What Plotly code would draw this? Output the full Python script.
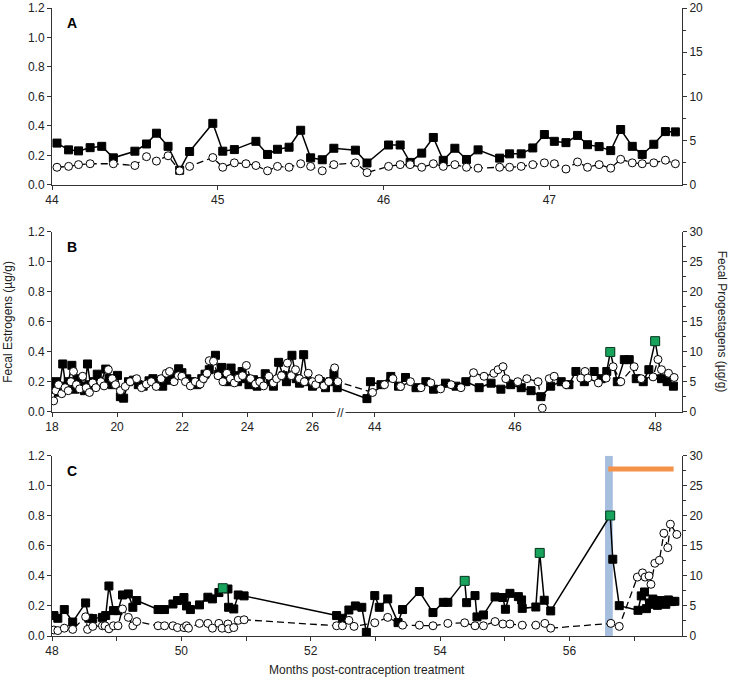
import plotly.graph_objects as go

# ---------------- Panel A data ----------------
a_months = [44.03, 44.10, 44.16, 44.23, 44.30, 44.37, 44.50, 44.57, 44.63, 44.70, 44.77, 44.83,
            44.97, 45.03, 45.10, 45.17, 45.23, 45.30, 45.36, 45.43, 45.50, 45.56, 45.63, 45.70,
            45.83, 45.90, 46.03, 46.10, 46.16, 46.23, 46.30, 46.36, 46.43, 46.50, 46.57, 46.70,
            46.76, 46.83, 46.90, 46.97, 47.03, 47.10, 47.17, 47.23, 47.30, 47.37, 47.43, 47.50,
            47.56, 47.63, 47.70, 47.76]
a_estrogen = [0.284, 0.238, 0.231, 0.253, 0.262, 0.184, 0.229, 0.278, 0.351, 0.262, 0.100, 0.227,
              0.418, 0.229, 0.240, None, 0.296, 0.207, 0.242, 0.256, 0.371, 0.184, 0.171, 0.249,
              0.236, 0.149, 0.271, 0.271, 0.153, 0.216, 0.322, 0.167, 0.249, 0.173, 0.238, 0.182,
              0.211, 0.211, 0.251, 0.342, 0.296, 0.287, 0.336, 0.273, 0.260, 0.233, 0.376, 0.262,
              0.207, 0.276, 0.362, 0.360]
a_progestagen = [2.0, 2.1, 2.3, 2.4, None, 2.4, 2.2, 3.2, 2.7, 3.3, 1.6, 2.1,
                 3.1, 2.0, 2.5, 2.4, 2.2, 1.6, 2.1, 2.0, 2.4, 2.1, 1.6, 2.3,
                 2.5, 1.4, 2.1, 2.3, 2.3, 2.0, 2.4, 2.1, 2.3, 2.0, 1.9, 2.0,
                 2.0, 2.1, 2.3, 2.5, 2.4, 1.8, 2.6, 2.0, 2.3, 1.9, 2.9, 2.5,
                 2.4, 2.5, 2.8, 2.4]

# ---------------- Panel B data (broken axis: 18-27 and 44-48.5 months) ----------------
b1_est_months = [18.05, 18.12, 18.20, 18.33, 18.42, 18.50, 18.61, 18.70, 18.80, 18.90, 19.00, 19.09,
                 19.18, 19.28, 19.39, 19.50, 19.65, 19.75, 19.85, 20.01, 20.10, 20.20, 20.35, 20.50,
                 20.65, 20.80, 20.98, 21.10, 21.25, 21.40, 21.55, 21.70, 21.89, 21.99, 22.14, 22.30,
                 22.45, 22.60, 22.70, 22.83, 23.02, 23.12, 23.22, 23.30, 23.40, 23.50, 23.60, 23.70,
                 23.84, 23.95, 24.05, 24.19, 24.30, 24.40, 24.55, 24.70, 24.80, 24.96, 25.10, 25.20,
                 25.37, 25.50, 25.60, 25.73, 25.85, 26.00, 26.10, 26.25, 26.40, 26.55, 26.66, 26.76]
b1_estrogen = [0.15, 0.20, 0.13, 0.318, 0.17, 0.20, 0.309, 0.15, 0.22, 0.17, 0.14, 0.318,
               0.18, 0.20, 0.25, 0.19, 0.284, 0.22, 0.18, 0.242, 0.10, 0.09, 0.20, 0.21,
               0.18, 0.17, 0.206, 0.22, 0.19, 0.17, 0.21, 0.24, 0.286, 0.26, 0.219, 0.20,
               0.18, 0.22, 0.25, 0.28, 0.376, 0.25, 0.295, 0.22, 0.20, 0.291, 0.24, 0.20,
               0.268, 0.22, 0.18, 0.213, 0.17, 0.20, 0.253, 0.20, 0.17, 0.329, 0.24, 0.20,
               0.376, 0.22, 0.19, 0.38, 0.20, 0.17, 0.19, 0.20, 0.16, 0.20, 0.257, 0.16]
b1_prog_months = [18.05, 18.12, 18.20, 18.30, 18.40, 18.50, 18.58, 18.66, 18.75, 18.85, 18.94, 19.05,
                  19.15, 19.25, 19.35, 19.50, 19.60, 19.73, 19.85, 19.95, 20.10, 20.25, 20.40, 20.60,
                  20.75, 20.90, 21.05, 21.20, 21.35, 21.51, 21.61, 21.75, 21.88, 21.99, 22.10, 22.25,
                  22.40, 22.55, 22.65, 22.76, 22.83, 22.96, 23.10, 23.25, 23.37, 23.48, 23.60, 23.72,
                  23.85, 23.97, 24.10, 24.25, 24.38, 24.50, 24.66, 24.80, 24.90, 25.05, 25.23, 25.35,
                  25.48, 25.60, 25.75, 25.87, 26.00, 26.10, 26.20, 26.35, 26.50, 26.68, 26.78]
b1_progestagen = [1.8, 3.5, 4.5, 3.0, 4.0, 3.5, 5.0, 6.7, 4.5, 3.8, 5.9, 4.0,
                  3.2, 4.8, 4.0, 5.0, 4.3, 7.0, 5.5, 4.5, 3.5, 4.2, 5.0, 5.5,
                  4.0, 4.6, 5.0, 4.2, 5.5, 6.4, 6.7, 5.0, 6.0, 5.9, 5.0, 4.3,
                  5.0, 4.6, 5.5, 6.4, 8.5, 8.4, 6.0, 5.0, 6.4, 5.5, 4.8, 5.6,
                  6.0, 7.7, 5.5, 4.6, 5.0, 4.3, 5.9, 4.8, 5.5, 6.0, 8.1, 6.0,
                  7.0, 5.5, 5.0, 6.4, 5.0, 4.5, 5.5, 4.3, 5.0, 7.3, 5.0]
b2_est_months = [43.89, 43.94, 44.09, 44.23, 44.34, 44.44, 44.59, 44.73, 44.84, 45.01, 45.16, 45.30,
                 45.49, 45.66, 45.80, 45.94, 46.09, 46.23, 46.37, 46.51, 46.66, 46.77, 46.87, 46.99,
                 47.13, 47.23, 47.31, 47.36, 47.46, 47.56, 47.63, 47.73, 47.83, 47.91, 48.00, 48.09,
                 48.17, 48.26]
b2_estrogen = [0.087, 0.20, 0.18, 0.235, 0.17, 0.228, 0.16, 0.20, 0.15, 0.19, 0.17, 0.20,
               0.16, 0.19, 0.15, 0.18, 0.16, 0.14, 0.10, 0.17, 0.20, 0.18, 0.268, 0.20,
               0.268, 0.22, 0.268, 0.398, 0.20, 0.347, 0.347, 0.22, 0.20, 0.28, 0.47, 0.22,
               0.20, 0.17]
b2_prog_months = [43.97, 44.14, 44.26, 44.37, 44.51, 44.66, 44.80, 44.94, 45.09, 45.23, 45.41, 45.56,
                  45.70, 45.76, 45.83, 45.87, 46.04, 46.17, 46.33, 46.39, 46.49, 46.56, 46.73, 46.94,
                  47.00, 47.04, 47.19, 47.30, 47.40, 47.51, 47.70, 47.80, 47.97, 48.04, 48.09, 48.19,
                  48.27]
b2_progestagen = [3.2, 4.5, 5.5, 4.2, 5.0, 4.0, 4.8, 3.8, 4.5, 4.0, 6.5, 5.9,
                  6.4, 7.0, 7.5, 5.5, 5.0, 5.5, 5.0, 0.6, 5.5, 5.9, 4.5, 5.6,
                  6.7, 5.6, 4.8, 5.6, 7.5, 5.0, 7.5, 5.5, 5.8, 8.7, 7.0, 6.4,
                  5.7]
b_green_months = [47.36, 48.00]
b_green_estrogen = [0.398, 0.47]

# ---------------- Panel C data ----------------
c_months = [48.03, 48.09, 48.19, 48.32, 48.52, 48.57, 48.63, 48.78, 48.83, 48.88, 48.95, 49.02,
            49.09, 49.18, 49.25, 49.31, 49.64, 49.74, 49.87, 49.94, 50.04, 50.08, 50.14, 50.28,
            50.41, 50.48, 50.58, 50.64, 50.72, 50.73, 50.81, 50.88, 50.97, 52.40, 52.49, 52.59,
            52.69, 52.79, 52.86, 52.99, 53.06, 53.19, 53.35, 53.42, 53.68, 53.89, 54.05, 54.12,
            54.38, 54.41, 54.54, 54.57, 54.67, 54.85, 54.97, 55.01, 55.08, 55.21, 55.26, 55.27,
            55.48, 55.54, 55.61, 55.71, 56.63, 56.67, 56.77, 57.06, 57.11, 57.16, 57.19, 57.24,
            57.29, 57.32, 57.36, 57.40, 57.44, 57.49, 57.53, 57.58, 57.63]
c_estrogen = [0.136, 0.118, 0.176, 0.093, 0.220, 0.118, 0.116, 0.124, 0.136, 0.333, 0.169, 0.169,
              0.273, 0.280, 0.191, 0.236, 0.176, 0.176, 0.213, 0.236, 0.256, 0.200, 0.176, 0.207,
              0.258, 0.247, 0.289, 0.318, 0.313, 0.191, 0.180, 0.273, 0.267, 0.136, 0.118, 0.173,
              0.200, 0.191, 0.024, 0.269, 0.191, 0.247, 0.089, 0.176, 0.296, 0.156, 0.224, 0.224,
              0.367, 0.222, 0.269, 0.127, 0.140, 0.260, 0.256, 0.178, 0.284, 0.262, 0.240, 0.184,
              0.193, 0.553, 0.238, 0.167, 0.802, 0.511, 0.202, 0.171, 0.267, 0.293, 0.182, 0.220,
              0.246, 0.211, 0.204, 0.236, 0.218, 0.211, 0.240, 0.229, 0.231]
c_prog_months = [48.03, 48.09, 48.19, 48.32, 48.52, 48.55, 48.63, 48.78, 48.82, 48.88, 48.95, 49.02,
                 49.09, 49.18, 49.25, 49.31, 49.64, 49.74, 49.87, 49.94, 50.04, 50.08, 50.11, 50.28,
                 50.41, 50.48, 50.58, 50.63, 50.72, 50.73, 50.81, 50.88, 50.97, 52.40, 52.49, 52.59,
                 52.67, 52.99, 53.19, 53.42, 53.68, 53.89, 54.12, 54.38, 54.54, 54.67, 54.85, 54.97,
                 55.08, 55.27, 55.48, 55.62, 55.71, 56.64, 56.77, 57.05, 57.13, 57.17, 57.23, 57.26,
                 57.32, 57.39, 57.46, 57.52, 57.56, 57.66]
c_progestagen = [1.0, 0.9, 1.3, 1.1, 3.2, 1.1, 1.6, 1.7, 1.7, 1.2, 1.7, 1.7,
                 4.5, 3.1, 1.7, 2.4, 1.7, 1.7, 1.7, 1.4, 1.4, 1.7, 1.3, 2.1,
                 2.1, 1.3, 2.1, 1.3, 2.0, 1.2, 1.4, 2.6, 2.7, 1.7, 1.7, 2.6,
                 1.6, 2.2, 3.1, 1.8, 1.8, 1.7, 2.1, 2.2, 1.7, 1.7, 2.4, 2.0,
                 2.0, 1.8, 1.8, 2.1, 1.3, 2.1, 1.6, 9.8, 10.5, 9.8, 10.0, 8.6,
                 12.1, 12.6, 17.1, 14.7, 18.6, 16.9]
c_green_months = [50.64, 54.38, 55.54, 56.63]
c_green_estrogen = [0.318, 0.367, 0.553, 0.802]
c_band_months = [56.55, 56.67]
c_bar_months = [56.60, 57.61]
c_bar_progestagen = 27.8

# ---------------- axis ticks ----------------
a_ticks = [44, 45, 46, 47]
b1_ticks = [18, 20, 22, 24, 26]
b2_ticks = [44, 46, 48]
c_ticks = [48, 50, 52, 54, 56]
left_ticks = [0, 0.2, 0.4, 0.6, 0.8, 1.0, 1.2]

# broken axis mapping for panel B (segment 2 is placed after the break)
B_SEG2_ORIGIN = 27.91   # axis position of month 44
B_SEG2_SCALE = 2.154    # segment 2 stretch relative to segment 1


def b2pos(m):
    return B_SEG2_ORIGIN + (m - 44) * B_SEG2_SCALE


FONT = "Liberation Sans, Arial, sans-serif"
BLACK = "#000000"
GREEN = "#17a35b"
DASH = "7px,4px"

fig = go.Figure()

sq = dict(symbol="square", size=8, color=BLACK, line=dict(color=BLACK, width=1))
ci = dict(symbol="circle", size=8, color="white", line=dict(color=BLACK, width=1))
gr = dict(symbol="square", size=9, color=GREEN, line=dict(color="#0b3d24", width=1))


def add_pair(x_e, y_e, x_p, y_p, xa, ya_l, ya_r):
    fig.add_trace(go.Scatter(x=x_p, y=y_p, mode="lines+markers", xaxis=xa, yaxis=ya_r,
                             line=dict(color=BLACK, width=1.3, dash=DASH), marker=ci,
                             connectgaps=True, showlegend=False))
    fig.add_trace(go.Scatter(x=x_e, y=y_e, mode="lines+markers", xaxis=xa, yaxis=ya_l,
                             line=dict(color=BLACK, width=1.5), marker=sq,
                             connectgaps=True, showlegend=False))


# Panel A
add_pair(a_months, a_estrogen, a_months, a_progestagen, "x", "y", "y2")

# Panel B
add_pair(b1_est_months + [b2pos(m) for m in b2_est_months], b1_estrogen + b2_estrogen,
         b1_prog_months + [b2pos(m) for m in b2_prog_months], b1_progestagen + b2_progestagen,
         "x2", "y3", "y4")
fig.add_trace(go.Scatter(x=[b2pos(m) for m in b_green_months], y=b_green_estrogen, mode="markers",
                         xaxis="x2", yaxis="y3", marker=gr, showlegend=False))

# Panel C
fig.add_trace(go.Scatter(x=[c_band_months[0], c_band_months[1], c_band_months[1], c_band_months[0]],
                         y=[0, 0, 1.2, 1.2], fill="toself", mode="none",
                         fillcolor="rgba(150,180,216,0.85)", xaxis="x3", yaxis="y5", showlegend=False))
fig.add_trace(go.Scatter(x=c_bar_months, y=[c_bar_progestagen] * 2, mode="lines",
                         line=dict(color="#f5924a", width=5), xaxis="x3", yaxis="y6", showlegend=False))
add_pair(c_months, c_estrogen, c_prog_months, c_progestagen, "x3", "y5", "y6")
fig.add_trace(go.Scatter(x=c_green_months, y=c_green_estrogen, mode="markers",
                         xaxis="x3", yaxis="y5", marker=gr, showlegend=False))

axis_common = dict(showgrid=False, zeroline=False, showline=True, linecolor="#333333", linewidth=1,
                   ticks="outside", ticklen=4, tickcolor="#333333", automargin=False,
                   tickfont=dict(size=12, color="#222"))

dom_a = [0.7182, 1.0]
dom_b = [0.3572, 0.6438]
dom_c = [0.0, 0.2871]

fig.update_layout(
    template="none",
    width=730, height=678, plot_bgcolor="white", paper_bgcolor="white",
    margin=dict(l=52, r=48, t=8, b=42, autoexpand=False),
    font=dict(family=FONT, size=12, color="#222"),
    showlegend=False,
    xaxis=dict(axis_common, domain=[0, 1], anchor="y", range=[44, 47.80], tickvals=a_ticks),
    yaxis=dict(axis_common, domain=dom_a, anchor="x", range=[0, 1.2], tickvals=left_ticks,
               tickformat=".1f"),
    yaxis2=dict(axis_common, domain=dom_a, anchor="x", overlaying="y", side="right", range=[0, 20],
                tickvals=[0, 5, 10, 15, 20],
                minor=dict(ticks="outside", ticklen=3, tickcolor="#333", dtick=2.5)),
    xaxis2=dict(axis_common, domain=[0, 1], anchor="y3", range=[18, 37.35],
                tickvals=b1_ticks + [b2pos(m) for m in b2_ticks],
                ticktext=[str(t) for t in b1_ticks + b2_ticks]),
    yaxis3=dict(axis_common, domain=dom_b, anchor="x2", range=[0, 1.2], tickvals=left_ticks,
                tickformat=".1f"),
    yaxis4=dict(axis_common, domain=dom_b, anchor="x2", overlaying="y3", side="right", range=[0, 30],
                tickvals=[0, 5, 10, 15, 20, 25, 30],
                minor=dict(ticks="outside", ticklen=3, tickcolor="#333", dtick=2.5)),
    xaxis3=dict(axis_common, domain=[0, 1], anchor="y5", range=[48, 57.74], tickvals=c_ticks,
                minor=dict(ticks="outside", ticklen=4, tickcolor="#333", dtick=1)),
    yaxis5=dict(axis_common, domain=dom_c, anchor="x3", range=[0, 1.2], tickvals=left_ticks,
                tickformat=".1f"),
    yaxis6=dict(axis_common, domain=dom_c, anchor="x3", overlaying="y5", side="right", range=[0, 30],
                tickvals=[0, 5, 10, 15, 20, 25, 30],
                minor=dict(ticks="outside", ticklen=3, tickcolor="#333", dtick=2.5)),
)

# Panel letters
for letter, dom in (("A", dom_a), ("B", dom_b), ("C", dom_c)):
    fig.add_annotation(text="<b>" + letter + "</b>", xref="paper", yref="paper",
                       x=0.0206, y=dom[1], yshift=-5, xanchor="left", yanchor="top", showarrow=False,
                       font=dict(size=14, color=BLACK))

# break marker on panel B x axis
fig.add_annotation(text="//", xref="x2", yref="paper", x=26.85, y=dom_b[0],
                   yshift=-1, showarrow=False, font=dict(size=12, color="#222"), bgcolor="white")

# axis titles
fig.add_annotation(text="Fecal Estrogens (µg/g)", xref="paper", yref="paper", x=-0.0698,
                   y=(dom_b[0] + dom_b[1]) / 2, textangle=-90, showarrow=False,
                   font=dict(size=12, color="#222"), xanchor="center", yanchor="middle")
fig.add_annotation(text="Fecal Progestagens (µg/g)", xref="paper", yref="paper", x=1.0635,
                   y=(dom_b[0] + dom_b[1]) / 2, textangle=90, showarrow=False,
                   font=dict(size=12, color="#222"), xanchor="center", yanchor="middle")
fig.add_annotation(text="Months post-contraception treatment", xref="paper", yref="paper",
                   x=0.5, y=0, yshift=-34, showarrow=False, font=dict(size=12, color="#222"),
                   xanchor="center", yanchor="middle")

fig.write_html("out.html", config={"displayModeBar": False},
               post_script="document.body.style.margin='0';document.body.style.overflow='hidden';")
